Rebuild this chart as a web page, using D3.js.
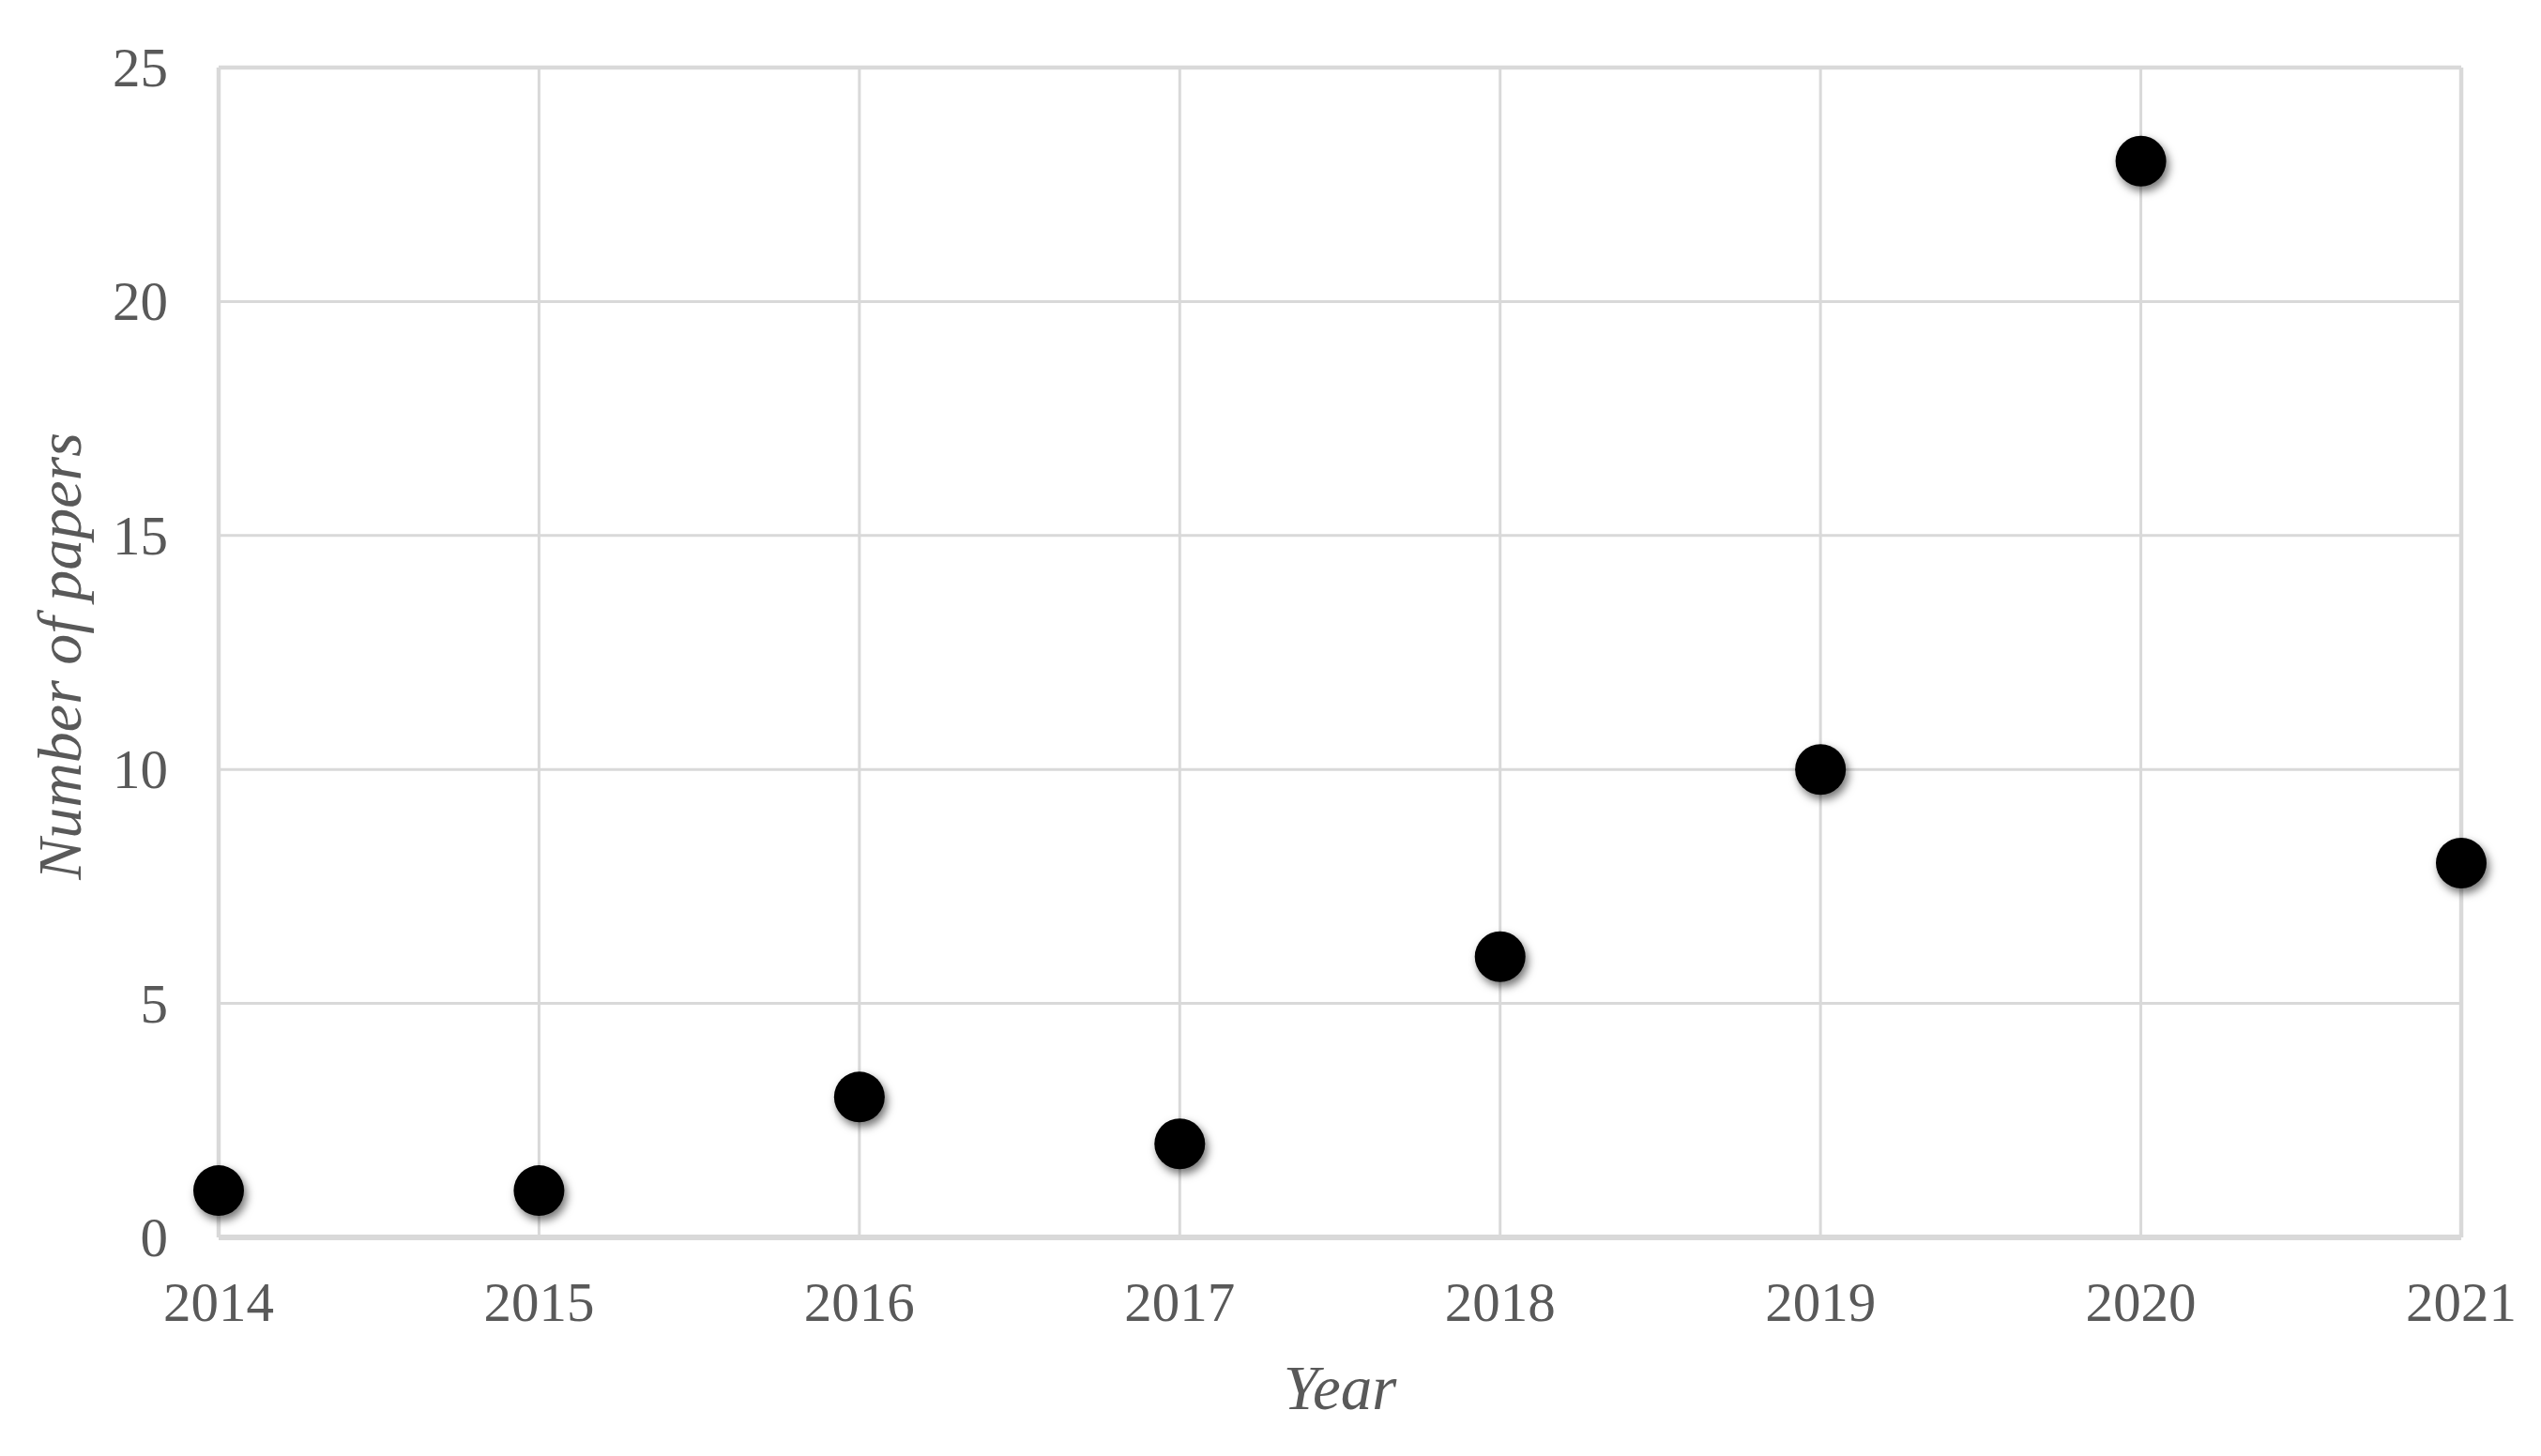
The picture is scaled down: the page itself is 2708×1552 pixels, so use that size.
<html>
<head>
<script src="https://d3js.org/d3.v7.min.js"></script>
<style>
  body { margin: 0; background: #fff; }
  text { font-family: "Liberation Serif", "Times New Roman", serif; fill: #595959; }
</style>
</head>
<body>
<svg id="chart" width="2708" height="1552"></svg>
<script>
// data
const years = [2014, 2015, 2016, 2017, 2018, 2019, 2020, 2021];
const papers = [1, 1, 3, 2, 6, 10, 23, 8];
const yTicks = [0, 5, 10, 15, 20, 25];

const svg = d3.select("svg#chart");
const margin = { top: 72, right: 85, bottom: 233, left: 233 };
const width = +svg.attr("width");
const height = +svg.attr("height");
const chartWidth = width - margin.left - margin.right;
const chartHeight = height - margin.top - margin.bottom;

const x = d3.scaleLinear().domain([2014, 2021]).range([0, chartWidth]);
const y = d3.scaleLinear().domain([0, 25]).range([chartHeight, 0]);

// soft shadow under the dots
const defs = svg.append("defs");
defs.append("filter").attr("id", "shadow")
    .attr("x", "-50%").attr("y", "-50%").attr("width", "200%").attr("height", "200%")
  .append("feDropShadow")
    .attr("dx", 3).attr("dy", 5).attr("stdDeviation", 5)
    .attr("flood-color", "#000").attr("flood-opacity", 0.55);

const g = svg.append("g").attr("transform", `translate(${margin.left},${margin.top})`);

// vertical gridlines
g.append("g").selectAll("line").data(years).join("line")
    .attr("x1", d => x(d)).attr("x2", d => x(d))
    .attr("y1", 0).attr("y2", chartHeight)
    .attr("stroke", "#d9d9d9")
    .attr("stroke-width", (d, i) => (i === 0 || i === years.length - 1) ? 4.5 : 3);

// horizontal gridlines
g.append("g").selectAll("line").data(yTicks).join("line")
    .attr("x1", 0).attr("x2", chartWidth)
    .attr("y1", d => y(d)).attr("y2", d => y(d))
    .attr("stroke", "#d9d9d9")
    .attr("stroke-width", d => d === 0 ? 6 : (d === 25 ? 4.5 : 3));

// y tick labels
g.append("g").selectAll("text").data(yTicks).join("text")
    .attr("x", -54).attr("y", d => y(d))
    .attr("dy", "0.34em")
    .attr("text-anchor", "end")
    .style("font-size", "59px")
    .text(d => d);

// x tick labels
g.append("g").selectAll("text").data(years).join("text")
    .attr("x", d => x(d)).attr("y", chartHeight + 89)
    .attr("text-anchor", "middle")
    .style("font-size", "59px")
    .text(d => d);

// points
g.append("g").selectAll("circle").data(years).join("circle")
    .attr("cx", d => x(d))
    .attr("cy", (d, i) => y(papers[i]))
    .attr("r", 27)
    .attr("fill", "#000")
    .attr("filter", "url(#shadow)");

// axis titles
svg.append("text")
    .attr("x", margin.left + chartWidth / 2).attr("y", 1502)
    .attr("text-anchor", "middle")
    .style("font-size", "67px").style("font-style", "italic")
    .text("Year");

svg.append("text")
    .attr("transform", `translate(86,${margin.top + chartHeight / 2 + 4}) rotate(-90)`)
    .attr("text-anchor", "middle")
    .style("font-size", "66px").style("font-style", "italic")
    .text("Number of papers");
</script>
</body>
</html>
